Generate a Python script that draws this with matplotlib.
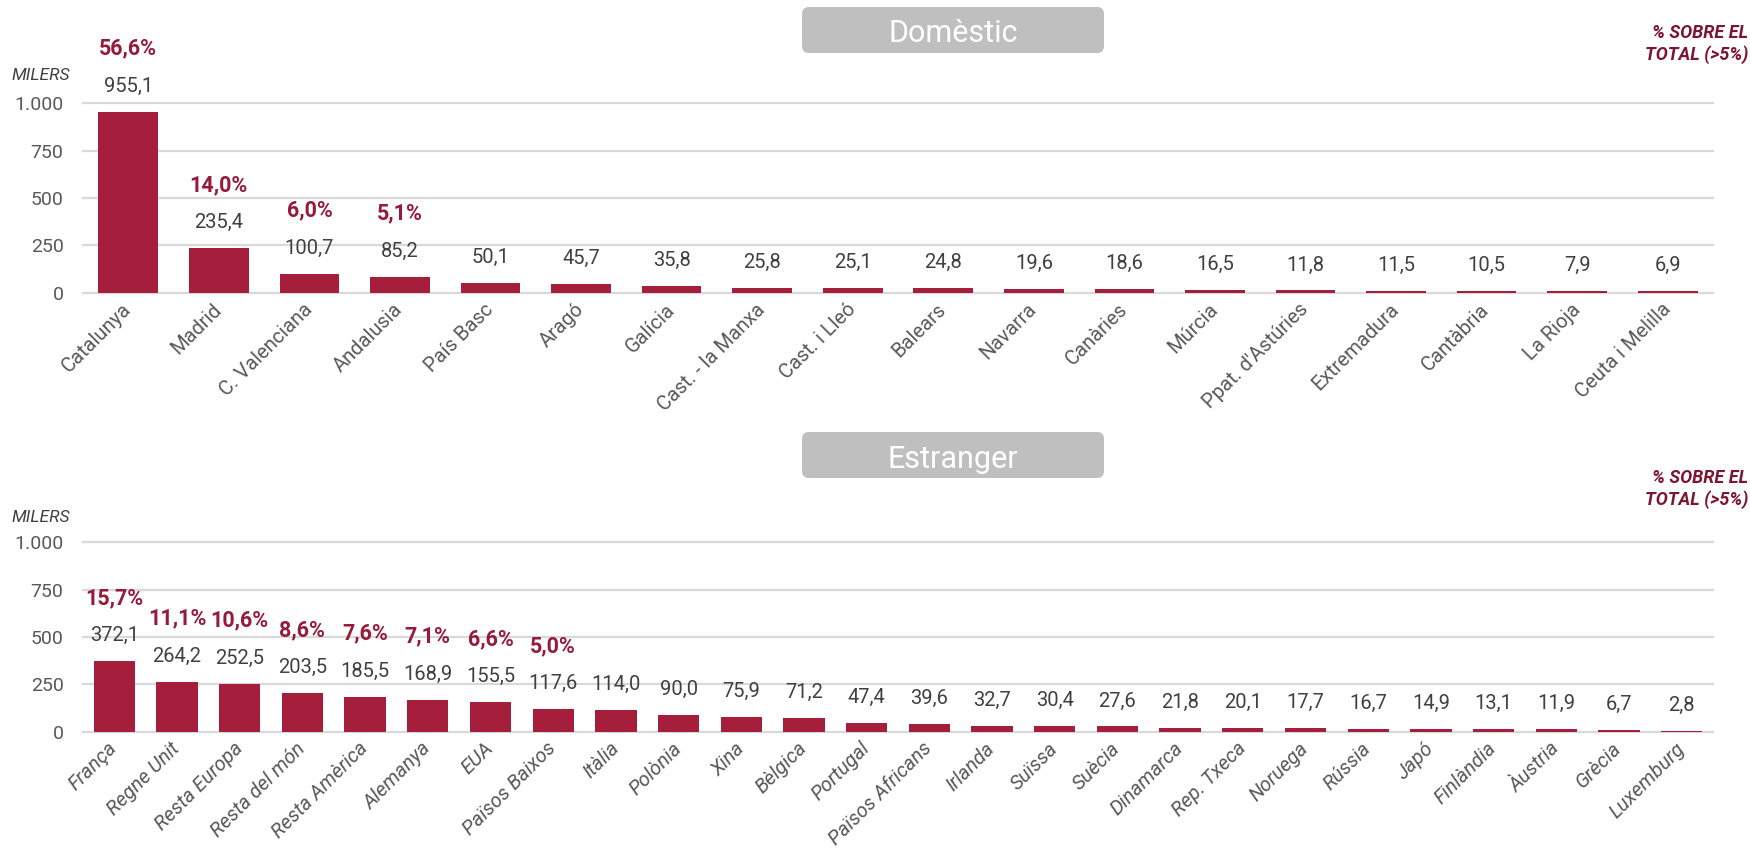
import matplotlib
matplotlib.use("Agg")
import matplotlib.pyplot as plt
from matplotlib.patches import FancyBboxPatch

# ---------------- data ----------------
dom_categories = ["Catalunya", "Madrid", "C. Valenciana", "Andalusia", "País Basc", "Aragó",
                  "Galícia", "Cast. - la Manxa", "Cast. i Lleó", "Balears", "Navarra", "Canàries",
                  "Múrcia", "Ppat. d'Astúries", "Extremadura", "Cantàbria", "La Rioja", "Ceuta i Melilla"]
dom_values = [955.1, 235.4, 100.7, 85.2, 50.1, 45.7, 35.8, 25.8, 25.1, 24.8, 19.6, 18.6,
              16.5, 11.8, 11.5, 10.5, 7.9, 6.9]
dom_pcts = [56.6, 14.0, 6.0, 5.1]

est_categories = ["França", "Regne Unit", "Resta Europa", "Resta del món", "Resta Amèrica",
                  "Alemanya", "EUA", "Països Baixos", "Itàlia", "Polònia", "Xina", "Bèlgica",
                  "Portugal", "Països Africans", "Irlanda", "Suïssa", "Suècia", "Dinamarca",
                  "Rep. Txeca", "Noruega", "Rússia", "Japó", "Finlàndia", "Àustria", "Grècia",
                  "Luxemburg"]
est_values = [372.1, 264.2, 252.5, 203.5, 185.5, 168.9, 155.5, 117.6, 114.0, 90.0, 75.9, 71.2,
              47.4, 39.6, 32.7, 30.4, 27.6, 21.8, 20.1, 17.7, 16.7, 14.9, 13.1, 11.9, 6.7, 2.8]
est_pcts = [15.7, 11.1, 10.6, 8.6, 7.6, 7.1, 6.6, 5.0]

y_ticks = [0, 250, 500, 750, 1000]
y_ticklabels = ["0", "250", "500", "750", "1.000"]

panel_titles = ["Domèstic", "Estranger"]

# ---------------- style ----------------
BAR = "#A51E3B"
PCT = "#961B3A"
NOTE = "#7B1530"
VAL = "#404040"
TICK = "#595959"
GRID = "#D9D9D9"
FONT = "Roboto"

plt.rcParams["font.family"] = [FONT, "DejaVu Sans"]

W, H = 1750, 858
fig = plt.figure(figsize=(W / 100, H / 100), dpi=100)


def fmt(v):
    return f"{v:.1f}".replace(".", ",")


def panel(rect, cats, vals, pcts, italic_labels):
    ax = fig.add_axes(rect)
    x = list(range(len(cats)))
    for t in y_ticks:
        ax.axhline(t, color=GRID, lw=1.6, zorder=0, clip_on=False)
    ax.bar(x, vals, width=0.66, color=BAR, zorder=2)
    ax.set_xlim(-0.5, len(cats) - 0.5)
    ax.set_ylim(0, 1000)
    for s in ax.spines.values():
        s.set_visible(False)
    ax.set_yticks(y_ticks)
    ax.set_yticklabels(y_ticklabels, fontsize=14, color=TICK)
    ax.tick_params(axis="y", length=0, pad=14)
    ax.set_xticks(x)
    ax.set_xticklabels(cats, rotation=45, ha="right", va="center", rotation_mode="anchor",
                       fontsize=14.5, color=TICK, style="italic" if italic_labels else "normal")
    ax.tick_params(axis="x", length=0, pad=10)
    for i, v in enumerate(vals):
        ax.annotate(fmt(v), (i, v), xytext=(0, 18.4), textcoords="offset points",
                    ha="center", va="center", fontsize=14.5, color=VAL, annotation_clip=False)
    for i, p in enumerate(pcts):
        ax.annotate(fmt(p) + "%", (i, vals[i]), xytext=(0, 45.4), textcoords="offset points",
                    ha="center", va="center", fontsize=15.5, fontweight="bold", color=PCT,
                    annotation_clip=False)
    return ax


def px_rect(left, right, y0_px, y1000_px):
    return [left / W, (H - y0_px) / H, (right - left) / W, (y0_px - y1000_px) / H]


panel(px_rect(83, 1713, 292.7, 103.3), dom_categories, dom_values, dom_pcts, False)
panel(px_rect(83, 1713, 731.7, 542.3), est_categories, est_values, est_pcts, True)


def title_box(text, top_px, bottom_px, baseline_px):
    box = FancyBboxPatch((802 / 100, (H - bottom_px) / 100), 302 / 100, (bottom_px - top_px) / 100,
                         boxstyle="round,pad=0,rounding_size=0.07", transform=fig.dpi_scale_trans,
                         fc="#BFBFBF", ec="none")
    fig.patches.append(box)
    fig.text(953 / W, (H - baseline_px) / H, text, ha="center", va="baseline",
             fontsize=22, color="white")


title_box(panel_titles[0], 7, 53, 42)
title_box(panel_titles[1], 432, 478, 468)


def side_notes(y_milers, y_line1, y_line2):
    fig.text(11 / W, (H - y_milers) / H, "MILERS", ha="left", va="center", fontsize=12.5,
             style="italic", color=VAL)
    fig.text(1748 / W, (H - y_line1) / H, "% SOBRE EL", ha="right", va="center", fontsize=13,
             style="italic", fontweight="bold", color=NOTE)
    fig.text(1748 / W, (H - y_line2) / H, "TOTAL (>5%)", ha="right", va="center", fontsize=13,
             style="italic", fontweight="bold", color=NOTE)


side_notes(76, 33, 55)
side_notes(517, 478, 500)

fig.savefig("out.png", dpi=100, facecolor="white")
